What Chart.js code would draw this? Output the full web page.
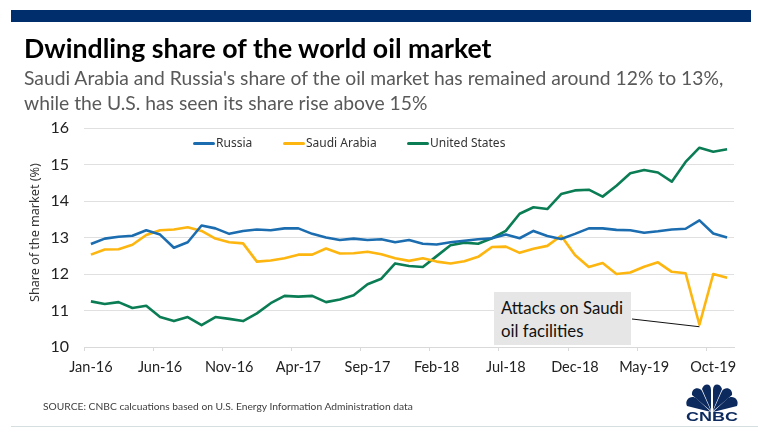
<!DOCTYPE html>
<html>
<head>
<meta charset="utf-8">
<title>Dwindling share of the world oil market</title>
<script src="https://cdn.jsdelivr.net/npm/chart.js@4/dist/chart.umd.min.js"></script>
<style>
  html, body { margin: 0; padding: 0; background: #fff; }
  #page { position: relative; width: 758px; height: 439px; overflow: hidden; font-family: Lato, sans-serif; }
  #page canvas { position: absolute; left: 0; top: 0; }
  .abs { position: absolute; white-space: nowrap; }
  #topbar { left: 11px; top: 10px; width: 740px; height: 12px; background: #002d6c; }
  #title { left: 24px; top: 32px; font-size: 26.7px; font-weight: 700; color: #000; line-height: 32px; }
  #subtitle { left: 24px; top: 65px; font-size: 19.3px; line-height: 25px; color: #595959; }
  #legend { left: 0; top: 135px; height: 16px; width: 758px; font-family: "Noto Sans", sans-serif; font-size: 12px; color: #333; }
  .legend-key { position: absolute; top: 6.5px; width: 22px; height: 3px; border-radius: 1.5px; }
  .legend-text { position: absolute; top: 0; line-height: 16px; }
  #yTitle { left: 27px; top: 162px; height: 141px; line-height: 16px; writing-mode: vertical-rl; transform: rotate(180deg); text-align: center; font-family: "Noto Sans", sans-serif; font-size: 12.6px; color: #333; }
  #note { left: 494px; top: 292px; width: 137px; height: 53px; background: #e6e6e6; color: #111; font-size: 16.8px; line-height: 23px; box-sizing: border-box; padding: 4px 0 0 7px; }
  #source { left: 43px; top: 400px; font-size: 10.25px; color: #404040; }
  #footline { left: 11px; top: 426px; width: 747px; height: 1px; background: #d5dfdf; }
  #logo { left: 684px; top: 384px; }
</style>
</head>
<body>
<div id="page">
  <canvas id="oilChart" width="758" height="439"></canvas>
  <div class="abs" id="topbar"></div>
  <div class="abs" id="title">Dwindling share of the world oil market</div>
  <div class="abs" id="subtitle">Saudi Arabia and Russia's share of the oil market has remained around 12% to 13%,<br>while the U.S. has seen its share rise above 15%</div>
  <div class="abs" id="legend"></div>
  <div class="abs" id="yTitle">Share of the market (%)</div>
  <div class="abs" id="note">Attacks on Saudi<br>oil facilities</div>
  <div class="abs" id="source">SOURCE: CNBC calcuations based on U.S. Energy Information Administration data</div>
  <div class="abs" id="footline"></div>
  <svg class="abs" id="logo" width="56" height="40" viewBox="0 0 56 40">
    <g fill="#0c2a5e">
      <path d="M27 28 L3 22 C0 15 8 10 13 15 Z"/>
      <path d="M27 27 L8 11 C7 4 15 2 18 7 Z"/>
      <path d="M27 26 L18 5 C20 -1 27 -1 27 6 Z"/>
      <path d="M29 26 L38 5 C36 -1 29 -1 29 6 Z"/>
      <path d="M29 27 L48 11 C49 4 41 2 38 7 Z"/>
      <path d="M29 28 L53 22 C56 15 48 10 43 15 Z"/>
      <text x="28" y="37" text-anchor="middle" font-family="Liberation Sans, sans-serif" font-weight="700" font-size="12" textLength="52" lengthAdjust="spacingAndGlyphs">CNBC</text>
    </g>
  </svg>
</div>
<script>
// Monthly categories, Jan-16 to Nov-19
const months = [
  'Jan-16', 'Feb-16', 'Mar-16', 'Apr-16', 'May-16', 'Jun-16', 'Jul-16', 'Aug-16', 'Sep-16', 'Oct-16', 'Nov-16', 'Dec-16',
  'Jan-17', 'Feb-17', 'Mar-17', 'Apr-17', 'May-17', 'Jun-17', 'Jul-17', 'Aug-17', 'Sep-17', 'Oct-17', 'Nov-17', 'Dec-17',
  'Jan-18', 'Feb-18', 'Mar-18', 'Apr-18', 'May-18', 'Jun-18', 'Jul-18', 'Aug-18', 'Sep-18', 'Oct-18', 'Nov-18', 'Dec-18',
  'Jan-19', 'Feb-19', 'Mar-19', 'Apr-19', 'May-19', 'Jun-19', 'Jul-19', 'Aug-19', 'Sep-19', 'Oct-19', 'Nov-19'
];

// Values (share of the market, %)
const russia = [
  12.82, 12.97, 13.02, 13.05, 13.2, 13.08, 12.72, 12.87, 13.33, 13.25, 13.1, 13.18,
  13.22, 13.2, 13.25, 13.25, 13.1, 13.0, 12.93, 12.97, 12.93, 12.95, 12.87, 12.93,
  12.83, 12.81, 12.87, 12.91, 12.95, 12.98, 13.08, 12.98, 13.18, 13.04, 12.96, 13.1,
  13.25, 13.25, 13.21, 13.2, 13.13, 13.17, 13.22, 13.24, 13.47, 13.11, 13.0
];
const saudiArabia = [
  12.53, 12.67, 12.68, 12.8, 13.07, 13.2, 13.22, 13.28, 13.18, 12.97, 12.87, 12.84,
  12.34, 12.37, 12.43, 12.53, 12.53, 12.7, 12.56, 12.57, 12.61, 12.54, 12.43, 12.36,
  12.43, 12.34, 12.29, 12.35, 12.47, 12.74, 12.75, 12.58, 12.69, 12.77, 13.05, 12.52,
  12.19, 12.3, 12.0, 12.04, 12.2, 12.32, 12.06, 12.02, 10.61, 12.0, 11.9
];
const unitedStates = [
  11.25, 11.18, 11.23, 11.07, 11.13, 10.82, 10.71, 10.82, 10.6, 10.82, 10.77, 10.71,
  10.92, 11.2, 11.4, 11.38, 11.4, 11.23, 11.3, 11.42, 11.72, 11.87, 12.29, 12.22,
  12.19, 12.49, 12.79, 12.86, 12.83, 12.98, 13.18, 13.65, 13.83, 13.78, 14.19, 14.29,
  14.31, 14.12, 14.42, 14.76, 14.85, 14.78, 14.53, 15.07, 15.46, 15.35, 15.42
];

const seriesNames = ['Russia', 'Saudi Arabia', 'United States'];
const seriesColors = ['#1b6db0', '#fdb50f', '#0b7d55'];
const legendKeyLeft = [193, 283, 407];

// The legend sits left of centre in the reference, so it is plain html
const legendBox = document.getElementById('legend');
seriesNames.forEach((name, i) => {
    const key = document.createElement('div');
    key.className = 'legend-key';
    key.style.left = legendKeyLeft[i] + 'px';
    key.style.background = seriesColors[i];
    const text = document.createElement('div');
    text.className = 'legend-text';
    text.style.left = (legendKeyLeft[i] + 23) + 'px';
    text.textContent = name;
    legendBox.append(key, text);
});

// Thin line from the grey note to the September 2019 dip
const noteLine = {
    id: 'noteLine',
    afterDatasetsDraw(chart) {
        const { ctx, scales } = chart;
        ctx.save();
        ctx.strokeStyle = '#111';
        ctx.lineWidth = 1;
        ctx.beginPath();
        ctx.moveTo(632, 319);
        ctx.lineTo(scales.x.getPixelForValue(44), scales.y.getPixelForValue(saudiArabia[44]) + 2);
        ctx.stroke();
        ctx.restore();
    }
};

const oilCtx = document.getElementById('oilChart').getContext('2d');
const oilChart = new Chart(oilCtx, {
    type: 'line',
    data: {
        labels: months,
        datasets: [russia, saudiArabia, unitedStates].map((values, i) => ({
            label: seriesNames[i],
            data: values,
            borderColor: seriesColors[i],
            borderWidth: 2.6,
            pointRadius: 0,
            tension: 0,
            borderJoinStyle: 'round'
        }))
    },
    options: {
        responsive: false,
        animation: false,
        layout: { padding: { top: 128, right: 24, left: 0, bottom: 0 } },
        plugins: { legend: { display: false }, tooltip: { enabled: false } },
        scales: {
            x: {
                offset: true,
                afterFit: scale => { scale.height = 92; },
                grid: {
                    offset: true,
                    drawOnChartArea: false,
                    tickLength: 4,
                    tickColor: c => (c.index % 5 === 0 ? '#d9d9d9' : 'rgba(0,0,0,0)')
                },
                border: { color: '#d9d9d9' },
                ticks: {
                    autoSkip: false,
                    maxRotation: 0,
                    padding: 8,
                    color: '#222',
                    font: { family: 'Lato', size: 14.5 },
                    callback(value, i) { return i % 5 === 0 ? months[i] : ''; }
                }
            },
            y: {
                min: 10,
                max: 16,
                afterFit: scale => { scale.width = 84; },
                grid: { color: '#e0e0e0', drawTicks: false },
                border: { display: false },
                ticks: {
                    stepSize: 1,
                    padding: 15,
                    color: '#222',
                    font: { family: 'Lato', size: 16 }
                }
            }
        }
    },
    plugins: [noteLine]
});
</script>
</body>
</html>
